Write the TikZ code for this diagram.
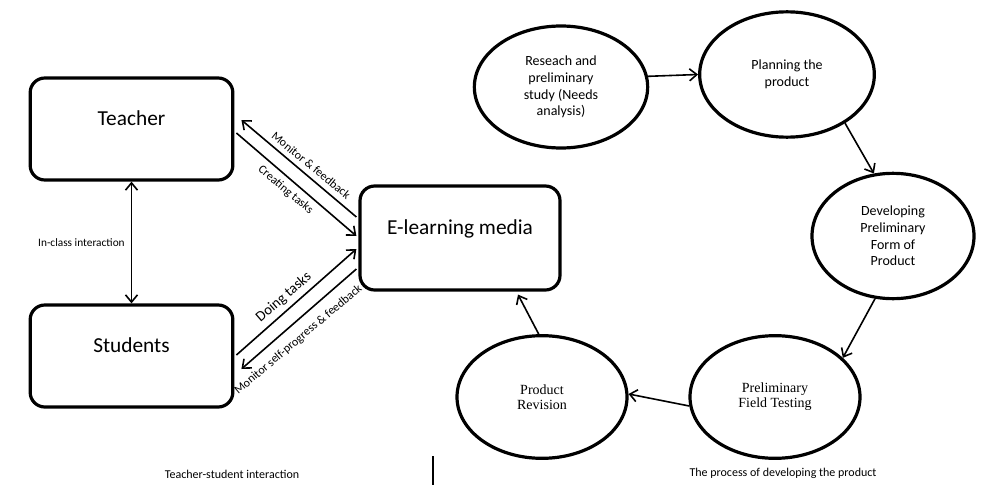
\documentclass[tikz,border=0pt]{standalone}
\usepackage{fontspec}
\setmainfont{Carlito}
\newfontfamily\timesfont{Liberation Serif}
\usetikzlibrary{arrows.meta,calc,shapes.geometric}
\tikzset{every picture/.style={line width=0.75pt}}

\begin{document}
\begin{tikzpicture}[x=0.75pt,y=0.75pt,yscale=-1,xscale=1,
  roundbox/.style={draw, line width=2.4pt, rounded corners=11pt, minimum width=152pt, minimum height=76.5pt, font=\fontsize{16}{19}\selectfont, text height=11pt, text depth=16.5pt},
  stage/.style={draw, ellipse, line width=2.4pt, align=center, inner sep=0pt, font=\fontsize{10.5}{12.5}\selectfont},
  stageserif/.style={stage, font=\timesfont\fontsize{10.5}{11.3}\selectfont},
  flow/.style={line width=1.2pt, -{Straight Barb[length=5.5pt,width=9pt,line width=1.2pt]}},
  flowback/.style={line width=1.2pt, {Straight Barb[length=5.5pt,width=9pt,line width=1.2pt]}-},
  flowboth/.style={line width=1.2pt, {Straight Barb[length=5.5pt,width=9pt,line width=1.2pt]}-{Straight Barb[length=5.5pt,width=9pt,line width=1.2pt]}},
  tag/.style={font=\fontsize{9}{10}\selectfont, inner sep=2pt}]
%set diagram size 985 x 485
\useasboundingbox (0,0) rectangle (985,485);

%Rounded Rect [id:teacher] 
\node [roundbox] (teacher) at (131.5,129) {Teacher};
%Rounded Rect [id:students] 
\node [roundbox] (students) at (131.5,356) {Students};
%Rounded Rect [id:elearn] 
\node [roundbox, minimum width=150pt, minimum height=78pt] (elearn) at (460,238) {E-learning media};

%Straight Lines [id:inclass] 
\draw [flowboth] (teacher) -- (students) node [tag, midway, left=2.5pt, font=\fontsize{8.5}{10}\selectfont] {In-class interaction};

%Straight Lines [id:monitor] 
\draw [flowback] ($(teacher.east)+(7,-9)$) -- ($(elearn.west)+(-2,-21)$) node [tag, pos=0.55, rotate=-39.4, anchor=south, inner sep=4pt] {Monitor \& feedback};
%Straight Lines [id:creating] 
\draw [flow] ($(teacher.east)+(2,4)$) -- ($(elearn.west)+(-2,-2)$) node [tag, pos=0.47, rotate=-40, anchor=north, inner sep=4pt] {Creating tasks};
%Straight Lines [id:doing] 
\draw [flow] ($(students.east)+(2,-1)$) -- ($(elearn.west)+(-2,11)$) node [tag, pos=0.46, rotate=40.8, anchor=south, inner sep=3.5pt, font=\fontsize{11}{12}\selectfont] {Doing tasks};
%Straight Lines [id:selfprogress] 
\draw [flowback] ($(students.east)+(7,13)$) -- ($(elearn.west)+(-2,31)$) node [tag, pos=0.41, rotate=40.3, anchor=north, inner sep=7pt] {Monitor self-progress \& feedback};

%Shape: Ellipse [id:research] 
\node [stage, minimum width=130pt, minimum height=91.5pt] (research) at (561,87) {Reseach and\\preliminary\\study (Needs\\analysis)};
%Shape: Ellipse [id:planning] 
\node [stage, minimum width=131pt, minimum height=94pt] (planning) at (787,74.5) {Planning the\\product};
%Shape: Ellipse [id:developing] 
\node [stage, minimum width=121.5pt, minimum height=94pt] (developing) at (893,236) {Developing\\Preliminary\\Form of\\Product};
%Shape: Ellipse [id:fieldtest] 
\node [stageserif, minimum width=127.5pt, minimum height=92pt] (fieldtest) at (775,397) {Preliminary\\Field Testing};
%Shape: Ellipse [id:revision] 
\node [stageserif, minimum width=127.5pt, minimum height=92pt] (revision) at (542,397) {Product\\Revision};

%Straight Lines [id:cycle] 
\draw [flow] (research.7) -- (planning.180);
\draw [flow] (planning.-40) -- (developing.107);
\draw [flow] (developing.-106) -- (fieldtest.30);
\draw [flow] (fieldtest.186) -- (revision.2);
\draw [flow] (revision.93) -- ($(elearn.south)+(58,3)$);

%Straight Lines [id:separator] 
\draw [line width=1.2pt] (433,456) -- (433,485);

% Text Node
\node [tag] (captionleft) at (232,474) {Teacher-student interaction};
% Text Node
\node [tag] (captionright) at (783,473) {The process of developing the product};

\end{tikzpicture}
\end{document}
